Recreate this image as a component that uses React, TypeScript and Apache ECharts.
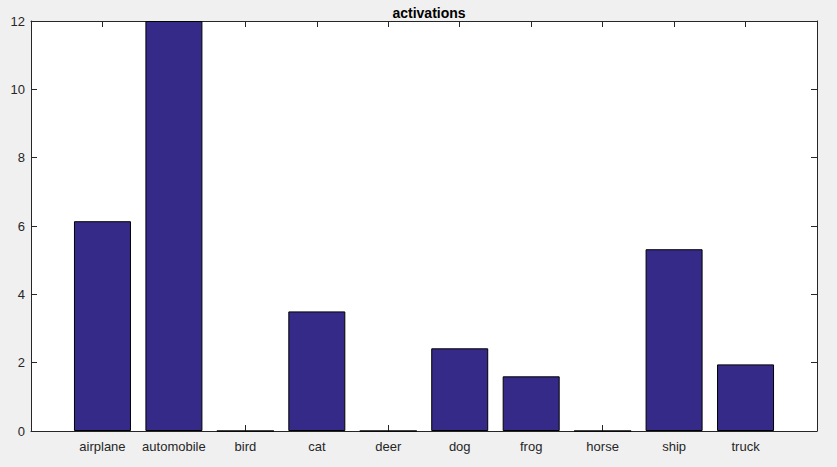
import React, { useEffect, useRef } from "react";
import * as echarts from "echarts";

const categories = ["airplane", "automobile", "bird", "cat", "deer", "dog", "frog", "horse", "ship", "truck"];
const activations = [6.14, 12.0, 0, 3.5, 0, 2.42, 1.6, 0, 5.32, 1.95];
const yTicks = [0, 2, 4, 6, 8, 10, 12];

const AXIS = "#262626";
const FONT = "Liberation Sans, Arial, Helvetica, sans-serif";

export default function App() {
  const ref = useRef<HTMLDivElement>(null);
  useEffect(() => {
    document.body.style.margin = "0";
    const chart = echarts.init(ref.current!, null, { renderer: "svg" });
    const common = {
      axisLine: { show: true, onZero: false, lineStyle: { color: AXIS, width: 1 } },
      axisTick: { show: true, inside: true, length: 6, lineStyle: { color: AXIS } },
      splitLine: { show: false },
    };
    chart.setOption({
      animation: false,
      backgroundColor: "#f0f0f0",
      title: {
        text: "activations",
        left: 424,
        textAlign: "center",
        top: 1,
        textStyle: { fontFamily: FONT, fontSize: 14, fontWeight: "bold", color: "#000" },
      },
      grid: { left: 31, right: 20, top: 21, bottom: 36, show: true, backgroundColor: "#ffffff", borderWidth: 0 },
      xAxis: [
        {
          type: "value",
          position: "bottom",
          min: 0,
          max: categories.length + 1,
          interval: 1,
          ...common,
          axisLabel: {
            show: true,
            margin: 9,
            color: AXIS,
            fontFamily: FONT,
            fontSize: 13,
            formatter: (v: number) => categories[v - 1] ?? "",
          },
        },
        {
          type: "value",
          position: "top",
          min: 0,
          max: categories.length + 1,
          interval: 1,
          ...common,
          axisLabel: { show: false },
        },
      ],
      yAxis: [
        {
          type: "value",
          position: "left",
          min: yTicks[0],
          max: yTicks[yTicks.length - 1],
          interval: 2,
          ...common,
          axisLabel: { show: true, margin: 6, color: AXIS, fontFamily: FONT, fontSize: 13 },
        },
        {
          type: "value",
          position: "right",
          min: yTicks[0],
          max: yTicks[yTicks.length - 1],
          interval: 2,
          ...common,
          axisLabel: { show: false },
        },
      ],
      series: [
        {
          type: "bar",
          xAxisIndex: 0,
          yAxisIndex: 0,
          barWidth: 57,
          data: activations.map((v, i) => [i + 1, v]),
          itemStyle: { color: "#352a87", borderColor: "#000000", borderWidth: 1 },
        },
      ],
    });
    return () => chart.dispose();
  }, []);
  return <div ref={ref} style={{ width: 837, height: 467 }} />;
}
